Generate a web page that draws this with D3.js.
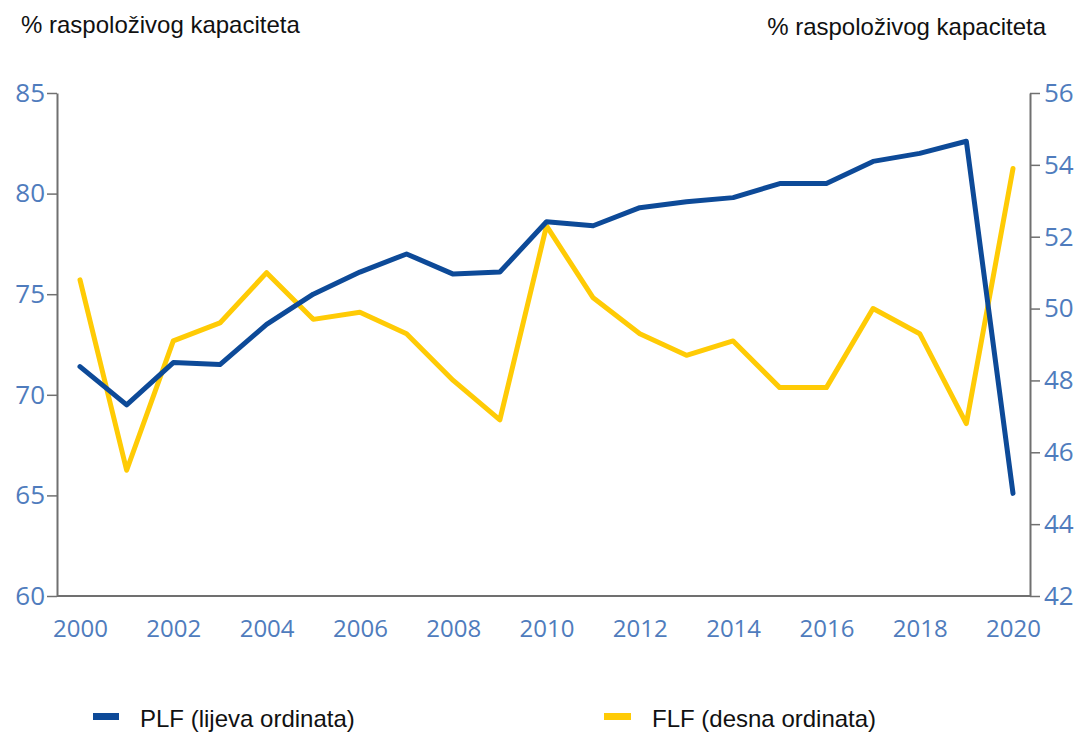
<html>
<head>
    <style>
        body { margin: 0; background: #fff; }
        .line { fill: none; stroke-width: 5px; stroke-linejoin: round; stroke-linecap: round; }
        .tick text { font-family: "Open Sans", sans-serif; font-size: 24px; fill: #4f7cbd; }
        .yaxis .tick text { font-size: 26px; }
        .title { font-family: "Liberation Sans", Arial, sans-serif; font-size: 24px; fill: #111; }
        .legend { font-family: "Liberation Sans", Arial, sans-serif; font-size: 24px; fill: #111; }
    </style>
</head>
<body>
    <svg id="container" width="1089" height="733"></svg>
</body>
<script src="https://cdnjs.cloudflare.com/ajax/libs/d3/7.8.5/d3.min.js"></script>
<script>
    // data
    let years = d3.range(2000, 2021)
    let plf = [71.4, 69.5, 71.6, 71.5, 73.5, 75.0, 76.1, 77.0, 76.0, 76.1, 78.6,
               78.4, 79.3, 79.6, 79.8, 80.5, 80.5, 81.6, 82.0, 82.6, 65.1]
    let flf = [50.8, 45.5, 49.1, 49.6, 51.0, 49.7, 49.9, 49.3, 48.0, 46.9, 52.3,
               50.3, 49.3, 48.7, 49.1, 47.8, 47.8, 50.0, 49.3, 46.8, 53.9]
    let leftTicks = [60, 65, 70, 75, 80, 85]
    let rightTicks = [42, 44, 46, 48, 50, 52, 54, 56]
    let yearTicks = d3.range(2000, 2021, 2)

    let svg = d3.select("#container")

    let plotLeft = 57, plotRight = 1030, plotTop = 93, plotBottom = 596

    let xScale = d3.scaleLinear().domain([2000, 2020]).range([80, 1013])
    let yLeft = d3.scaleLinear().domain([60, 85]).range([plotBottom, plotTop])
    let yRight = d3.scaleLinear().domain([42, 56]).range([plotBottom, plotTop])

    // left axis
    svg.append("g")
        .attr("class", "yaxis")
        .attr("transform", "translate(" + plotLeft + ",0)")
        .call(d3.axisLeft(yLeft).tickValues(leftTicks).tickSize(10).tickSizeOuter(0).tickPadding(2))
    // right axis
    svg.append("g")
        .attr("class", "yaxis")
        .attr("transform", "translate(" + plotRight + ",0)")
        .call(d3.axisRight(yRight).tickValues(rightTicks).tickSize(10).tickSizeOuter(0).tickPadding(4))
    // x axis labels
    let gx = svg.append("g")
        .attr("transform", "translate(0," + plotBottom + ")")
        .call(d3.axisBottom(xScale).tickValues(yearTicks).tickFormat(d3.format("d")).tickSize(0).tickPadding(24))
    gx.select("path.domain").remove()

    svg.append("line")
        .attr("x1", plotLeft).attr("x2", plotRight)
        .attr("y1", plotBottom).attr("y2", plotBottom)
        .attr("stroke", "#707070").attr("stroke-width", 2)

    svg.selectAll("path.domain").attr("stroke", "#707070").attr("stroke-width", 2)
    svg.selectAll(".tick line").attr("stroke", "#707070").attr("stroke-width", 1.5)

    // lines
    let lineL = d3.line().x((d, i) => xScale(years[i])).y(d => yLeft(d))
    let lineR = d3.line().x((d, i) => xScale(years[i])).y(d => yRight(d))

    svg.append("path").datum(flf)
        .attr("class", "line")
        .attr("stroke", "#ffcb05")
        .attr("d", lineR)

    svg.append("path").datum(plf)
        .attr("class", "line")
        .attr("stroke", "#0d4a98")
        .attr("d", lineL)

    // axis titles
    svg.append("text").attr("class", "title").attr("x", 21).attr("y", 33).text("% raspoloživog kapaciteta")
    svg.append("text").attr("class", "title").attr("x", 1046).attr("y", 35)
        .style("text-anchor", "end").text("% raspoloživog kapaciteta")

    // legend
    svg.append("rect").attr("x", 93).attr("y", 713).attr("width", 26).attr("height", 7).attr("fill", "#0d4a98")
    svg.append("text").attr("class", "legend").attr("x", 140).attr("y", 727).text("PLF (lijeva ordinata)")
    svg.append("rect").attr("x", 604).attr("y", 713).attr("width", 27).attr("height", 7).attr("fill", "#ffcb05")
    svg.append("text").attr("class", "legend").attr("x", 652).attr("y", 727).text("FLF (desna ordinata)")
</script>
</html>
